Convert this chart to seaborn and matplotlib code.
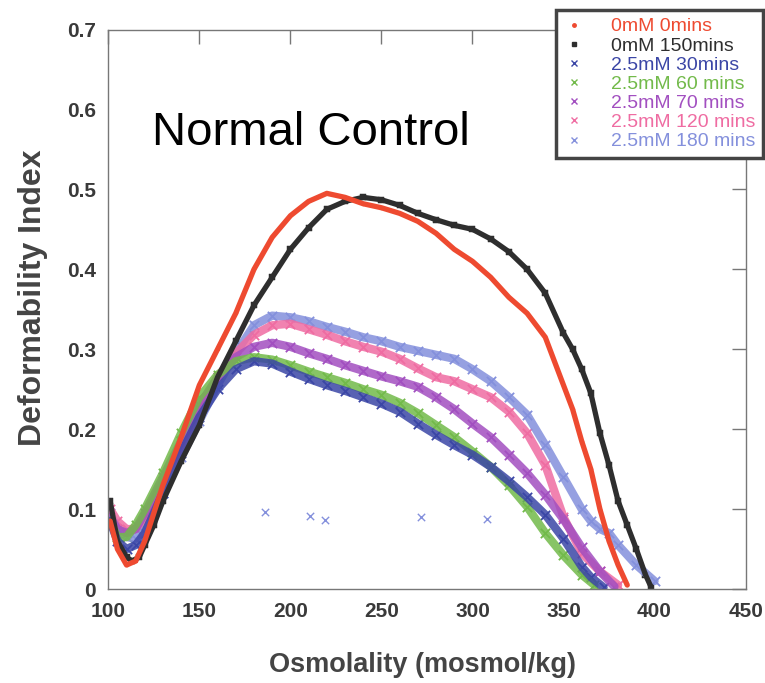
import numpy as np
import pandas as pd
import matplotlib
matplotlib.use('Agg')
import matplotlib.pyplot as plt
import seaborn as sns
from matplotlib.lines import Line2D

# config
sns.set_theme(style='white')
plt.rcParams['font.family'] = ['Liberation Sans', 'DejaVu Sans']
######################################

# data
osm_0mM_0 = [101, 105, 110, 115, 120, 125, 130, 140, 150, 160, 170, 180, 190, 200, 210, 220,
             230, 240, 250, 260, 270, 280, 290, 300, 310, 320, 330, 340, 350, 355, 360, 365,
             370, 375, 380, 385]
di_0mM_0 = [0.085, 0.05, 0.03, 0.035, 0.06, 0.095, 0.13, 0.19, 0.255, 0.30, 0.345, 0.40, 0.44,
            0.467, 0.485, 0.495, 0.49, 0.482, 0.477, 0.47, 0.46, 0.445, 0.425, 0.41, 0.39, 0.365,
            0.345, 0.315, 0.255, 0.225, 0.185, 0.15, 0.10, 0.06, 0.03, 0.005]

osm_0mM_150 = [101, 105, 110, 113, 117, 120, 125, 130, 140, 150, 160, 170, 180, 190, 200, 210,
               220, 230, 240, 250, 260, 270, 280, 290, 300, 310, 320, 330, 340, 350, 355, 360,
               365, 370, 375, 380, 385, 390, 395, 398]
di_0mM_150 = [0.11, 0.06, 0.04, 0.035, 0.04, 0.055, 0.08, 0.11, 0.16, 0.205, 0.265, 0.31, 0.355,
              0.39, 0.425, 0.452, 0.475, 0.485, 0.49, 0.487, 0.48, 0.47, 0.462, 0.455, 0.45,
              0.438, 0.422, 0.40, 0.37, 0.32, 0.30, 0.275, 0.245, 0.195, 0.155, 0.11, 0.08,
              0.05, 0.018, 0.003]

osm_30 = [101, 105, 110, 115, 120, 130, 140, 150, 160, 170, 180, 190, 200, 210, 220, 230, 240,
          250, 260, 270, 280, 290, 300, 310, 320, 330, 340, 350, 360, 365, 372]
di_30 = [0.085, 0.06, 0.05, 0.055, 0.07, 0.12, 0.17, 0.215, 0.25, 0.275, 0.285, 0.282, 0.272,
         0.263, 0.255, 0.248, 0.24, 0.232, 0.222, 0.207, 0.193, 0.18, 0.168, 0.153, 0.135, 0.115,
         0.093, 0.063, 0.028, 0.015, 0.002]

osm_60 = [101, 105, 110, 115, 120, 130, 140, 150, 160, 170, 180, 190, 200, 210, 220, 230, 240,
          250, 260, 270, 280, 290, 300, 310, 320, 330, 340, 350, 360, 367]
di_60 = [0.085, 0.065, 0.065, 0.08, 0.10, 0.145, 0.195, 0.24, 0.268, 0.285, 0.29, 0.287, 0.28,
         0.272, 0.265, 0.258, 0.25, 0.243, 0.233, 0.22, 0.205, 0.19, 0.172, 0.153, 0.13, 0.103,
         0.07, 0.042, 0.018, 0.005]

osm_70 = [101, 105, 110, 115, 120, 130, 140, 150, 160, 170, 180, 190, 200, 210, 220, 230, 240,
          250, 260, 270, 280, 290, 300, 310, 320, 330, 340, 350, 360, 370, 378]
di_70 = [0.09, 0.075, 0.07, 0.075, 0.095, 0.14, 0.185, 0.23, 0.265, 0.29, 0.303, 0.308, 0.303,
         0.295, 0.288, 0.28, 0.273, 0.266, 0.26, 0.253, 0.24, 0.225, 0.207, 0.19, 0.168, 0.145,
         0.118, 0.087, 0.052, 0.022, 0.003]

osm_120 = [101, 105, 110, 115, 120, 130, 140, 150, 160, 170, 180, 190, 200, 210, 220, 230, 240,
           250, 260, 270, 280, 290, 300, 310, 320, 330, 340, 350, 360, 370, 380]
di_120 = [0.10, 0.085, 0.075, 0.075, 0.09, 0.135, 0.18, 0.225, 0.265, 0.295, 0.318, 0.33, 0.332,
          0.325, 0.318, 0.31, 0.303, 0.297, 0.288, 0.276, 0.265, 0.26, 0.25, 0.24, 0.222, 0.195,
          0.155, 0.09, 0.045, 0.022, 0.005]

osm_180 = [101, 105, 110, 115, 120, 130, 140, 150, 160, 170, 180, 190, 200, 210, 220, 230, 240,
           250, 260, 270, 280, 290, 300, 310, 320, 330, 340, 350, 360, 365, 370, 375, 380, 390,
           400]
di_180 = [0.095, 0.075, 0.065, 0.063, 0.075, 0.12, 0.165, 0.21, 0.255, 0.295, 0.33, 0.342, 0.34,
          0.335, 0.328, 0.322, 0.315, 0.31, 0.303, 0.298, 0.293, 0.288, 0.275, 0.26, 0.24, 0.218,
          0.18, 0.14, 0.10, 0.085, 0.075, 0.07, 0.055, 0.03, 0.01]

# stray points of the 180 min run
osm_180_stray = [186, 210.6, 218.8, 272, 308]
di_180_stray = [0.096, 0.091, 0.086, 0.09, 0.0875]

labels = ['0mM 0mins', '0mM 150mins', '2.5mM 30mins', '2.5mM 60 mins',
          '2.5mM 70 mins', '2.5mM 120 mins', '2.5mM 180 mins']
colors = ['#ee4a30', '#2e2e2e', '#3b46a6', '#72ba4a', '#a24fc0', '#ef6ca2', '#8490dc']
markers = ['.', 's', 'x', 'x', 'x', 'x', 'x']

series = [(osm_0mM_0, di_0mM_0), (osm_0mM_150, di_0mM_150), (osm_30, di_30), (osm_60, di_60),
          (osm_70, di_70), (osm_120, di_120), (osm_180, di_180)]

fig = plt.figure(figsize=(7.65, 6.83), dpi=100)
ax = fig.add_axes([0.1416, 0.1376, 0.833, 0.8192])

# lower (x marker) runs first, then the two controls on top
draw_order = [6, 5, 4, 3, 2, 1, 0]
for i in draw_order:
    xs, ys = series[i]
    c = colors[i]
    if markers[i] == 'x':
        sns.lineplot(x=xs, y=ys, ax=ax, color=c, lw=6, alpha=0.85, sort=False,
                     legend=False)
        sns.scatterplot(x=xs, y=ys, ax=ax, color=c, marker='x', s=45, linewidth=1.3,
                        legend=False)
    else:
        sns.lineplot(x=xs, y=ys, ax=ax, color=c, lw=3.8, sort=False, legend=False)
        sns.scatterplot(x=xs, y=ys, ax=ax, color=c, marker=markers[i], s=18,
                        edgecolor=c, legend=False)

sns.scatterplot(x=osm_180_stray, y=di_180_stray, ax=ax, color=colors[6], marker='x', s=28,
                linewidth=1.0, legend=False)

ax.set_xlim(100, 450)
ax.set_ylim(0, 0.7)
ax.set_xticks(np.arange(100, 451, 50))
ax.set_yticks(np.arange(0, 0.71, 0.1))
ax.set_yticklabels(['0', '0.1', '0.2', '0.3', '0.4', '0.5', '0.6', '0.7'])
ax.tick_params(direction='in', length=10, width=1, color='#777777', top=True, right=True,
               labelsize=15, labelcolor='#3a3a3a', pad=9)
for lab in ax.get_xticklabels() + ax.get_yticklabels():
    lab.set_fontweight('bold')
for sp in ax.spines.values():
    sp.set_color('#777777')
    sp.set_linewidth(1)

ax.set_xlabel('Osmolality (mosmol/kg)', fontsize=19.5, fontweight='bold', color='#444444')
ax.set_ylabel('Deformability Index', fontsize=23, fontweight='bold', color='#444444')
ax.xaxis.set_label_coords(0.493, -0.113)
ax.yaxis.set_label_coords(-0.094, 0.52)

ax.text(123.8, 0.555, 'Normal Control', fontsize=34, color='black', va='baseline')

handles = []
for c, m in zip(colors, markers):
    ms = 5 if m == '.' else (3 if m == 's' else 5)
    handles.append(Line2D([], [], ls='', marker=m, color=c, ms=ms, mew=1.0))
leg = fig.legend(handles, labels, loc='upper right', bbox_to_anchor=(763 / 765, 1 - 10 / 683),
                 fontsize=14, frameon=True, fancybox=False, edgecolor='#444444',
                 labelspacing=0.08, handlelength=1.0, handletextpad=1.4, borderpad=0.4,
                 borderaxespad=0)
leg.get_frame().set_linewidth(2.5)
leg.get_frame().set_alpha(1)
for txt, c in zip(leg.get_texts(), colors):
    txt.set_color(c)

fig.savefig('out.png', dpi=100)
